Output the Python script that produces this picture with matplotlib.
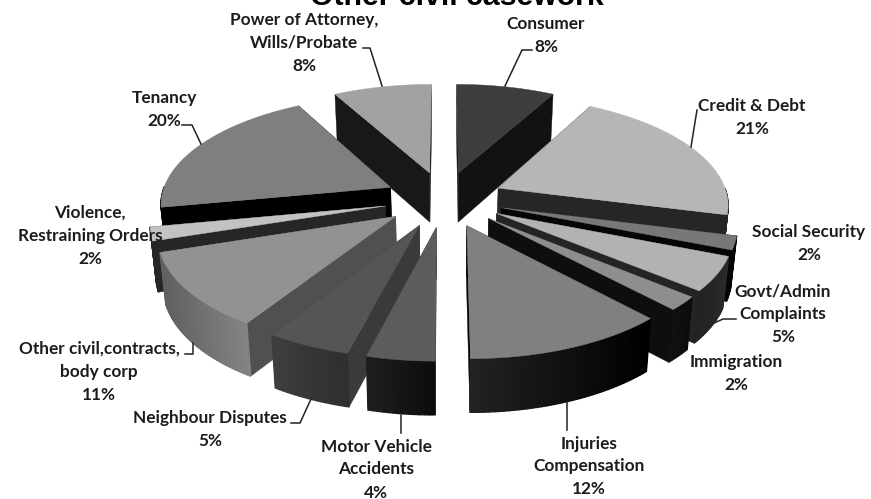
import numpy as np
import matplotlib
matplotlib.use("Agg")
import matplotlib.pyplot as plt
from matplotlib.colors import to_rgb
from matplotlib.patches import Polygon

# --------------------------
# Data
# --------------------------
categories = ["Consumer", "Credit & Debt", "Social Security", "Govt/Admin\nComplaints",
              "Immigration", "Injuries\nCompensation", "Motor Vehicle\nAccidents",
              "Neighbour Disputes", "Other civil,contracts,\nbody corp",
              "Violence,\nRestraining Orders", "Tenancy", "Power of Attorney,\nWills/Probate"]
values = [8, 21, 2, 5, 2, 12, 4, 5, 11, 2, 20, 8]

# styles, one per slice
top_colors = ["#3d3d3d", "#b6b6b6", "#787878", "#b2b2b2", "#8e8e8e", "#808080",
              "#5c5c5c", "#555555", "#929292", "#c2c2c2", "#7f7f7f", "#a2a2a2"]
radial_colors = ["#121212", "#262626", "#050505", "#242424", "#0e0e0e", "#050505",
                 "#3a3a3a", "#3a3a3a", "#505050", "#262626", "#000000", "#181818"]
outer_left = ["#111111", "#262626", "#050505", "#222222", "#101010", "#222222",
              "#1e1e1e", "#3e3e3e", "#606060", "#262626", "#000000", "#181818"]
outer_right = ["#111111", "#262626", "#050505", "#2a2a2a", "#0c0c0c", "#000000",
               "#0c0c0c", "#2e2e2e", "#848484", "#262626", "#000000", "#181818"]

label_pos = [(546, 23), (752, 105), (809, 232), (783, 291), (736, 361), (589, 443),
             (376, 446), (210, 418), (99, 348), (90, 212), (164, 97), (304, 19)]

leaders = [[(532, 50), (522, 50), (505, 86)],
           [(697, 110), (691, 147)],
           [(736, 319), (723, 319), (712, 324)],
           [(567, 402), (567, 430)],
           [(401, 415), (401, 433)],
           [(291, 423), (300, 423), (311, 399)],
           [(185, 354), (193, 354), (193, 343)],
           [(182, 125), (192, 125), (201, 144)],
           [(363, 48), (370, 48), (382, 86)]]

# projection settings for the tilted pie
cx, cy = 444, 199
scale_x, scale_y = 230, 107
persp = 0.135
explode = 0.26
depth = 50


def project(x, y, z=0):
    # x, y on the pie plane (y points away from the viewer), z=1 is the bottom
    w = 1 + persp * y
    px = scale_x * x / w
    py = cy - scale_y * y / w + z * (depth - 3 * y)
    return cx + px * (1 - 0.02 * z), py


def face(points_xy, z=0):
    return [project(x, y, z) for x, y in points_xy]


fig, ax = plt.subplots(figsize=(8.71, 4.99), dpi=100)
ax.axis("off")
ax.set_position([0, 0, 1, 1])
ax.set_xlim(0, 871)
ax.set_ylim(499, 0)

# --------------------------
# Slices, back to front
# --------------------------
angles = np.radians(np.concatenate([[0], np.cumsum(values)]) * 3.6)
slices = []
for i in range(len(values)):
    a0, a1 = angles[i], angles[i + 1]
    mid = (a0 + a1) / 2
    slices.append((np.cos(mid), i, a0, a1, mid))
slices.sort(key=lambda s: -s[0])

for _, i, a0, a1, mid in slices:
    ox, oy = explode * np.sin(mid), explode * np.cos(mid)
    th = np.linspace(a0, a1, max(int(np.degrees(a1 - a0)), 4))
    arc = [(ox + np.sin(t), oy + np.cos(t)) for t in th]
    apex = (ox, oy)

    # radial walls first, the outer wall is only drawn where it faces us
    c_a, c_b = np.array(to_rgb(outer_left[i])), np.array(to_rgb(outer_right[i]))
    xs = [project(*p)[0] for p in arc]
    xmin, xmax = min(xs), max(xs)
    for edge in (arc[0], arc[-1]):
        pts = face([apex, edge]) + face([edge, apex], 1)
        ax.add_patch(Polygon(pts, closed=True, fc=radial_colors[i], ec=radial_colors[i], lw=0.3))
    for k in range(len(arc) - 1):
        if np.cos((th[k] + th[k + 1]) / 2) > 0:
            continue
        seg = arc[k:k + 2]
        t = ((xs[k] + xs[k + 1]) / 2 - xmin) / max(xmax - xmin, 1)
        col = c_a + (c_b - c_a) * t
        ax.add_patch(Polygon(face(seg) + face(seg[::-1], 1), closed=True,
                             fc=col, ec=col, lw=1.0))
    ax.add_patch(Polygon(face([apex] + arc), closed=True, fc=top_colors[i],
                         ec=top_colors[i], lw=0.3))

# --------------------------
# Labels and leader lines
# --------------------------
for line in leaders:
    ax.plot([p[0] for p in line], [p[1] for p in line], color="#222222", lw=1.1)

for name, val, (lx, ly) in zip(categories, values, label_pos):
    lines = name.split("\n") + [f"{val}%"]
    for n, txt in enumerate(lines):
        ax.text(lx, ly + 0.5 + n * 23, txt, ha="center", va="center", family="Lato",
                weight="bold", fontsize=12.4, color="#1c1c1c")

ax.text(456.5, 4.5, "Other civil casework", ha="center", va="baseline",
        family="Liberation Sans", weight="bold", fontsize=21.8, color="black")

fig.savefig("out.png", dpi=100)
